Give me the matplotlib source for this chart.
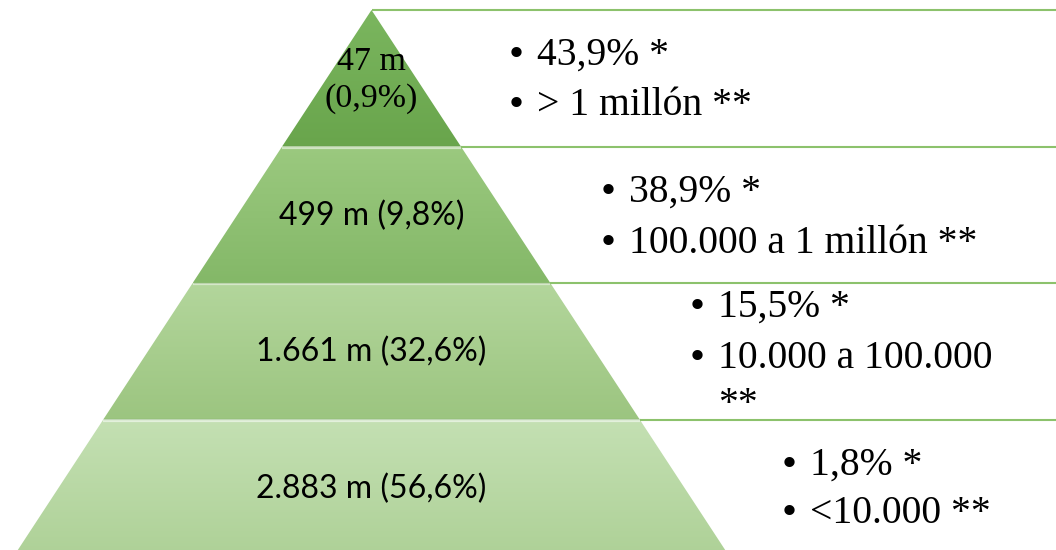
import matplotlib
matplotlib.use("Agg")
import matplotlib.pyplot as plt
import numpy as np
from matplotlib.patches import Polygon
from matplotlib.colors import LinearSegmentedColormap

# ---- data ----
level_labels = ["47 m\n(0,9%)", "499 m (9,8%)", "1.661 m (32,6%)", "2.883 m (56,6%)"]
share_text = ["43,9% *", "38,9% *", "15,5% *", "1,8% *"]
range_text = ["> 1 millón **", "100.000 a 1 millón **", "10.000 a 100.000\n**", "<10.000 **"]

# ---- styles ----
top_colors = ["#7bb65f", "#9bc97f", "#b3d69c", "#c4e0b3"]
bot_colors = ["#69a54c", "#84b868", "#9cc580", "#aed197"]
line_color = "#8cc26c"

W, H = 1056, 550
fig = plt.figure(figsize=(W / 100, H / 100), dpi=100)
ax = fig.add_axes([0, 0, 1, 1])
ax.set_xlim(0, W)
ax.set_ylim(H, 0)
ax.axis("off")

apex_x, apex_y = 371.5, 10.0
level_h = 136.5
slope = 0.655

def half(y):
    return (y - apex_y) * slope

serif = ["Liberation Serif", "DejaVu Serif"]
sans = ["Lato", "DejaVu Sans"]

bullet_x = [516, 608, 697, 789]
text_dx = 21
# baselines of first and second bullet lines, per level
base1 = [65, 202, 317, 475]
base2 = [115, 253, 368, 523]
bullet_lift = 9

for i in range(len(level_labels)):
    y0 = apex_y + i * level_h
    y1 = y0 + level_h
    h0, h1 = half(y0), half(y1)
    poly = [(apex_x - h0, y0), (apex_x + h0, y0), (apex_x + h1, y1), (apex_x - h1, y1)]
    patch = Polygon(poly, closed=True, facecolor="none", edgecolor="none")
    ax.add_patch(patch)
    cmap = LinearSegmentedColormap.from_list("g%d" % i, [top_colors[i], bot_colors[i]])
    grad = np.linspace(0, 1, 200).reshape(-1, 1)
    im = ax.imshow(grad, cmap=cmap, aspect="auto",
                   extent=[apex_x - h1, apex_x + h1, y1, y0], zorder=1)
    im.set_clip_path(patch)
    if i > 0:
        ax.plot([apex_x - h0, apex_x + h0], [y0 + 1, y0 + 1], color="white",
                alpha=0.55, lw=1.6, zorder=2, solid_capstyle="butt")
        ax.plot([apex_x - h0, apex_x + h0], [y0 - 0.5, y0 - 0.5], color="#5d8f45",
                alpha=0.25, lw=1.0, zorder=2, solid_capstyle="butt")
    ax.plot([apex_x + h0, W], [y0, y0], color=line_color, lw=1.5, zorder=3,
            solid_capstyle="butt")
    # level label
    yc = (y0 + y1) / 2
    if i == 0:
        l_a, l_b = level_labels[i].split("\n")
        ax.text(apex_x, 70, l_a, ha="center", va="baseline",
                fontsize=24.5, family=serif, color="black", zorder=4)
        ax.text(apex_x, 107, l_b, ha="center", va="baseline",
                fontsize=24.5, family=serif, color="black", zorder=4)
    else:
        ax.text(apex_x, yc + 1, level_labels[i], ha="center", va="center",
                fontsize=23, family=sans, color="black", zorder=4)
    # right texts
    bx = bullet_x[i]
    lines = range_text[i].split("\n")
    entries = [(base1[i], share_text[i]), (base2[i], lines[0])]
    for by, txt in entries:
        ax.text(bx, by - bullet_lift, "•", ha="center", va="center", fontsize=31,
                family=serif, color="black", zorder=4)
        ax.text(bx + text_dx, by, txt, ha="left", va="baseline",
                fontsize=28.5, family=serif, color="black", zorder=4)
    for k, extra in enumerate(lines[1:]):
        ax.text(bx + text_dx, base2[i] + 46 * (k + 1), extra, ha="left", va="baseline",
                fontsize=28.5, family=serif, color="black", zorder=4)

fig.savefig("out.png", dpi=100)
